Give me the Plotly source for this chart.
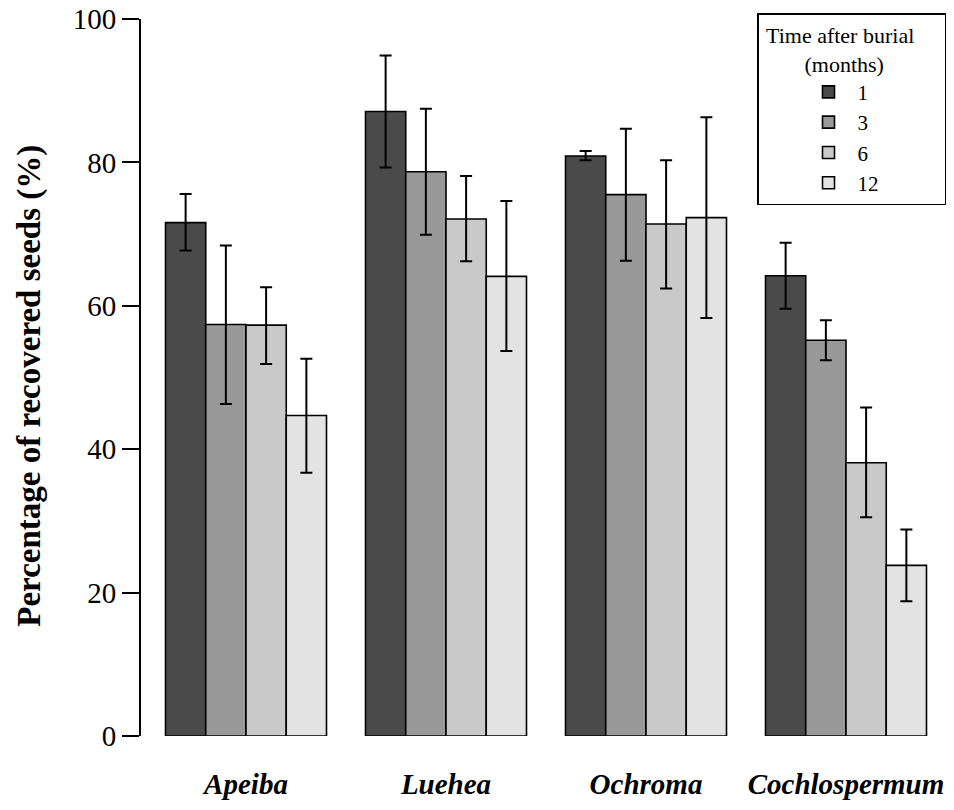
import plotly.graph_objects as go

# seed recovery after burial
species = ["Apeiba", "Luehea", "Ochroma", "Cochlospermum"]
months = ["1", "3", "6", "12"]

mean_1 = [71.6, 87.1, 80.9, 64.2]
mean_3 = [57.4, 78.7, 75.5, 55.2]
mean_6 = [57.3, 72.1, 71.4, 38.1]
mean_12 = [44.7, 64.1, 72.3, 23.8]

upper_1 = [75.6, 94.9, 81.6, 68.8]
upper_3 = [68.4, 87.5, 84.7, 58.0]
upper_6 = [62.6, 78.1, 80.3, 45.8]
upper_12 = [52.6, 74.6, 86.3, 28.8]

lower_1 = [67.7, 79.3, 80.3, 59.6]
lower_3 = [46.3, 69.9, 66.3, 52.4]
lower_6 = [51.9, 66.2, 62.4, 30.5]
lower_12 = [36.7, 53.7, 58.3, 18.8]

y_ticks = [0, 20, 40, 60, 80, 100]

means = [mean_1, mean_3, mean_6, mean_12]
uppers = [upper_1, upper_3, upper_6, upper_12]
lowers = [lower_1, lower_3, lower_6, lower_12]
colors = ["#4a4a4a", "#999999", "#c9c9c9", "#e3e3e3"]  # dark -> light grey

FONT = "Liberation Serif"
W, H = 946, 802  # page body adds an 8px margin around the figure
NB = "&nbsp;"

fig = go.Figure()
for m, mu, up, lo, col in zip(months, means, uppers, lowers, colors):
    fig.add_trace(go.Bar(
        x=list(range(len(species))), y=mu, name=m,
        marker=dict(color=col, line=dict(color="black", width=1.6)),
        error_y=dict(type="data", symmetric=False,
                     array=[u - v for u, v in zip(up, mu)],
                     arrayminus=[v - l for v, l in zip(mu, lo)],
                     color="black", thickness=2, width=6),
    ))

# legend title padded by hand so it sits centred in a wider box
legend_title = (NB + "Time after burial" + NB * 5 + "<br>"
                + NB * 8 + "(months)")

fig.update_layout(
    barmode="group", bargap=0.195, bargroupgap=0,
    width=W, height=H,
    margin=dict(l=133, r=8, t=11, b=74, autoexpand=False),
    paper_bgcolor="white", plot_bgcolor="white",
    font=dict(family=FONT, color="black", size=30),
    showlegend=True,
    legend=dict(
        xref="container", yref="container",
        x=749 / W, y=1 - 5 / H, xanchor="left", yanchor="top",
        bordercolor="black", borderwidth=1.5, bgcolor="white",
        font=dict(size=21, family=FONT),
        title=dict(text=legend_title, font=dict(size=22, family=FONT)),
        indentation=41, itemwidth=48,
    ),
)

fig.update_xaxes(
    range=[-0.525, 3.5], tickmode="array", tickvals=list(range(len(species))),
    ticktext=[f"<b><i>{s}</i></b>" for s in species],
    ticks="outside", ticklen=22, tickcolor="rgba(0,0,0,0)",
    showline=False, showgrid=False, zeroline=False, automargin=False,
    tickfont=dict(size=29, family=FONT),
)
fig.update_yaxes(
    range=[0, 100], tickvals=y_ticks, ticklabeloverflow="allow",
    ticks="outside", ticklen=17, tickwidth=2, tickcolor="black",
    showline=True, linewidth=2, linecolor="black",
    showgrid=False, zeroline=False, automargin=False,
    title=dict(text="<b>Percentage of recovered seeds (%)" + NB * 2 + "</b>",
               font=dict(size=33, family=FONT), standoff=22),
    tickfont=dict(size=29, family=FONT),
)

fig.write_html("out.html")
